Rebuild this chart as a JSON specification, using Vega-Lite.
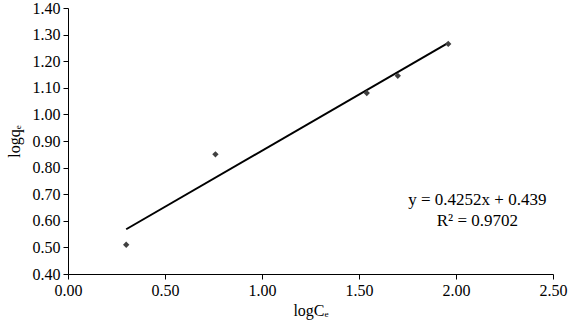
{
  "$schema": "https://vega.github.io/schema/vega-lite/v6.json",
  "width": 485,
  "height": 266,
  "autosize": {"type": "none"},
  "padding": {"left": 68, "top": 8, "right": 20, "bottom": 50},
  "background": "white",
  "config": {
    "view": {"stroke": null},
    "font": "Liberation Serif",
    "axis": {
      "grid": false,
      "domainColor": "black",
      "tickColor": "black",
      "tickSize": 5,
      "labelOverlap": false,
      "labelFlush": false,
      "labelFont": "Liberation Serif",
      "labelFontSize": 16,
      "labelColor": "black",
      "titleFont": "Liberation Serif",
      "titleFontSize": 16,
      "titleFontWeight": "normal",
      "titleColor": "black"
    }
  },
  "datasets": {
    "pts": [
      {"logCe": 0.30, "logqe": 0.51},
      {"logCe": 0.76, "logqe": 0.85},
      {"logCe": 1.54, "logqe": 1.08},
      {"logCe": 1.70, "logqe": 1.145},
      {"logCe": 1.96, "logqe": 1.265}
    ],
    "eq": [
      {"logCe": 2.11, "logqe": 0.678, "label": "y = 0.4252x + 0.439"},
      {"logCe": 2.11, "logqe": 0.600, "label": "R² = 0.9702"}
    ]
  },
  "encoding": {
    "x": {
      "field": "logCe", "type": "quantitative",
      "scale": {"domain": [0, 2.5], "nice": false, "zero": false},
      "axis": {"values": [0, 0.5, 1, 1.5, 2, 2.5], "format": ".2f", "title": "logCₑ", "labelPadding": 3, "titlePadding": 4, "labelOverlap": false, "labelFlush": false}
    },
    "y": {
      "field": "logqe", "type": "quantitative",
      "scale": {"domain": [0.4, 1.4], "nice": false, "zero": false},
      "axis": {"values": [0.4, 0.5, 0.6, 0.7, 0.8, 0.9, 1.0, 1.1, 1.2, 1.3, 1.4], "format": ".2f", "title": "logqₑ", "labelPadding": 3, "titlePadding": 10, "labelOverlap": false, "labelFlush": false}
    }
  },
  "layer": [
    {
      "data": {"name": "pts"},
      "transform": [{"regression": "logqe", "on": "logCe"}],
      "mark": {"type": "line", "color": "black", "strokeWidth": 2}
    },
    {
      "data": {"name": "pts"},
      "mark": {"type": "point", "shape": "diamond", "filled": true, "color": "#404040", "size": 40, "opacity": 1}
    },
    {
      "data": {"name": "eq"},
      "mark": {"type": "text", "fontSize": 17, "font": "Liberation Serif", "color": "black", "align": "center", "baseline": "middle"},
      "encoding": {
        "text": {"field": "label"}
      }
    }
  ]
}
